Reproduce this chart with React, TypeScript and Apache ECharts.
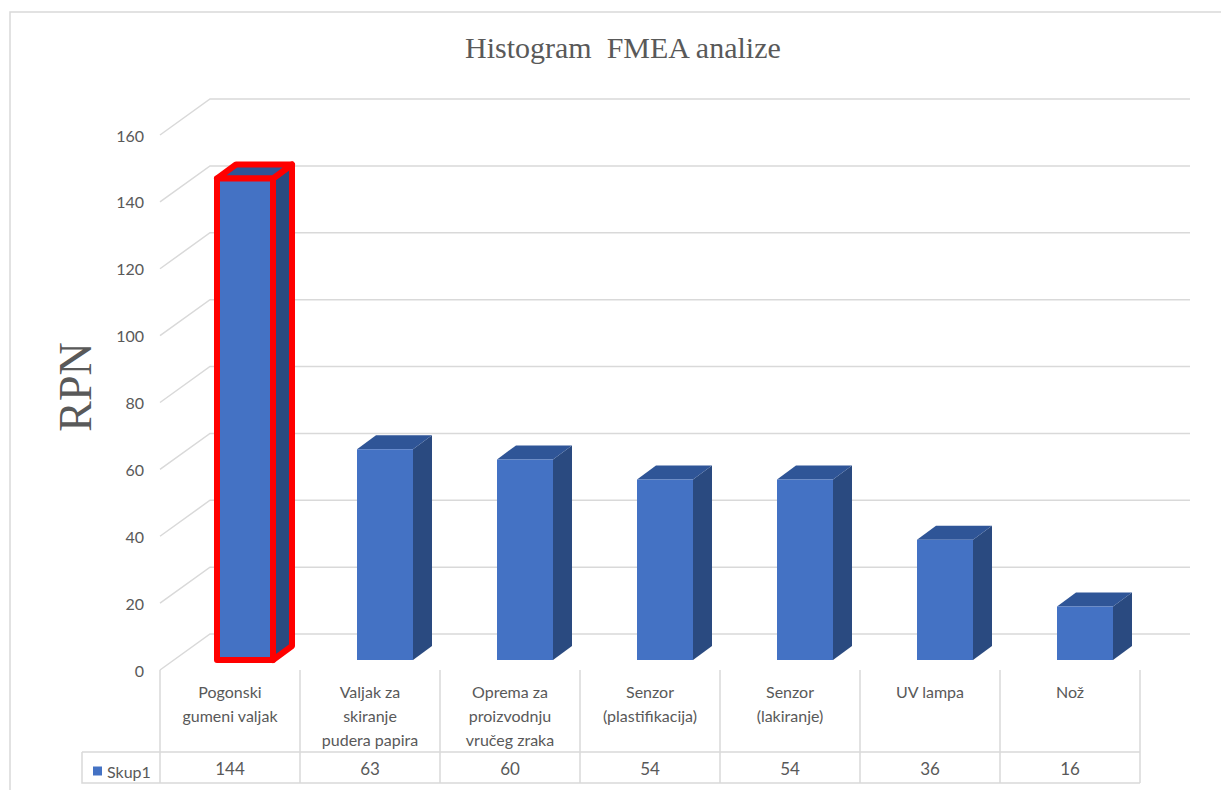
import React, { useEffect, useRef } from "react";
import * as echarts from "echarts";

const categories = [
  "Pogonski\ngumeni valjak",
  "Valjak za\nskiranje\npudera papira",
  "Oprema za\nproizvodnju\nvručeg zraka",
  "Senzor\n(plastifikacija)",
  "Senzor\n(lakiranje)",
  "UV lampa",
  "Nož",
];
const values = [144, 63, 60, 54, 54, 36, 16];
const yTicks = [0, 20, 40, 60, 80, 100, 120, 140, 160];
const seriesName = "Skup1";
const highlighted = [0];

const FRONT = "#4472C4";
const TOP = "#2F5597";
const SIDE = "#2A4A80";
const GRID = "#D9D9D9";
const TEXT = "#595959";

export default function App() {
  const ref = useRef<HTMLDivElement>(null);
  useEffect(() => {
    if (!ref.current) return;
    const chart = echarts.init(ref.current, null, { renderer: "svg" });
    const option: any = {
      animation: false,
      backgroundColor: "#ffffff",
      title: {
        text: "Histogram  FMEA analize",
        left: 460,
        top: 27,
        textStyle: {
          fontFamily: "Liberation Serif",
          fontSize: 30,
          fontWeight: "normal",
          color: TEXT,
        },
      },
      legend: {
        data: [seriesName],
        left: 88,
        top: 758,
        icon: "rect",
        itemWidth: 9,
        itemHeight: 9,
        itemGap: 5,
        textStyle: { fontFamily: "Lato", fontSize: 16, color: TEXT },
      },
      grid: { left: 160, right: 81, top: 135, bottom: 120 },
      xAxis: [
        {
          type: "category",
          data: categories,
          position: "bottom",
          axisLine: { show: false },
          axisTick: { show: true, length: 113, lineStyle: { color: GRID, width: 1.5 } },
          axisLabel: {
            interval: 0,
            margin: 9,
            fontFamily: "Lato",
            fontSize: 16,
            lineHeight: 24,
            color: TEXT,
            verticalAlign: "top",
          },
          splitLine: { show: false },
        },
        {
          type: "category",
          data: values.map(String),
          position: "bottom",
          axisLine: { show: false },
          axisTick: { show: false },
          axisLabel: {
            interval: 0,
            margin: 98,
            fontFamily: "Lato",
            fontSize: 17,
            color: TEXT,
            verticalAlign: "middle",
          },
        },
      ],
      yAxis: {
        type: "value",
        min: 0,
        max: 160,
        interval: 20,
        axisLine: { show: false },
        axisTick: { show: false },
        splitLine: { show: false },
        axisLabel: { fontFamily: "Lato", fontSize: 16, color: TEXT, margin: 16 },
      },
      graphic: [
        {
          type: "rect",
          shape: { x: 10, y: 12, width: 1230, height: 800 },
          style: { fill: "none", stroke: GRID, lineWidth: 1.5 },
          silent: true,
        },
        {
          type: "text",
          x: 75,
          y: 387,
          rotation: Math.PI / 2,
          style: {
            text: "RPN",
            fontFamily: "Liberation Serif",
            fontSize: 46,
            fill: TEXT,
            textAlign: "center",
            textVerticalAlign: "middle",
          },
        },
        {
          type: "polyline",
          shape: { points: [[82, 752], [1140, 752]] },
          style: { stroke: GRID, lineWidth: 1.5 },
        },
        {
          type: "polyline",
          shape: { points: [[82, 752], [82, 783], [1140, 783]] },
          style: { stroke: GRID, lineWidth: 1.5, fill: "none" },
        },
      ],
      series: [
        {
          type: "custom",
          name: "gridlines",
          silent: true,
          z: 1,
          data: yTicks.map((v) => [0, v]),
          encode: { x: 0, y: 1 },
          renderItem: (params: any, api: any) => {
            const cs = params.coordSys;
            const y = api.coord([0, api.value(1)])[1];
            const x0 = cs.x;
            const x1 = cs.x + cs.width;
            return {
              type: "polyline",
              shape: { points: [[x0, y], [x0 + 50, y - 36], [x1 + 50, y - 36]] },
              style: { stroke: GRID, lineWidth: 1.5, fill: "none" },
            };
          },
        },
        {
          type: "custom",
          name: seriesName,
          z: 5,
          itemStyle: { color: FRONT },
          data: values.map((v, i) => [i, v]),
          encode: { x: 0, y: 1 },
          renderItem: (params: any, api: any) => {
            const i = api.value(0);
            const v = api.value(1);
            const base = api.coord([i, 0]);
            const topP = api.coord([i, v]);
            const bw = api.size([1, 0])[0];
            const c = base[0] + 15;
            const hw = bw * 0.2;
            const L = c - hw;
            const R = c + hw;
            const yT = topP[1] - 10;
            const yB = base[1] - 10;
            const dx = 19;
            const dy = -14;
            const hl = highlighted.indexOf(params.dataIndex) >= 0;
            const stroke = hl
              ? { stroke: "#FF0000", lineWidth: 6, lineJoin: "round" }
              : { stroke: null, lineWidth: 0 };
            return {
              type: "group",
              children: [
                {
                  type: "polygon",
                  shape: { points: [[R, yT], [R + dx, yT + dy], [R + dx, yB + dy], [R, yB]] },
                  style: { fill: SIDE, ...stroke },
                },
                {
                  type: "polygon",
                  shape: { points: [[L, yT], [R, yT], [R + dx, yT + dy], [L + dx, yT + dy]] },
                  style: { fill: TOP, ...stroke },
                },
                {
                  type: "polygon",
                  shape: { points: [[L, yT], [R, yT], [R, yB], [L, yB]] },
                  style: { fill: FRONT, ...stroke },
                },
              ],
            };
          },
        },
      ],
    };
    chart.setOption(option);
    return () => chart.dispose();
  }, []);
  return (
    <div
      ref={ref}
      style={{ position: "fixed", left: 0, top: 0, width: 1221, height: 790 }}
    />
  );
}
